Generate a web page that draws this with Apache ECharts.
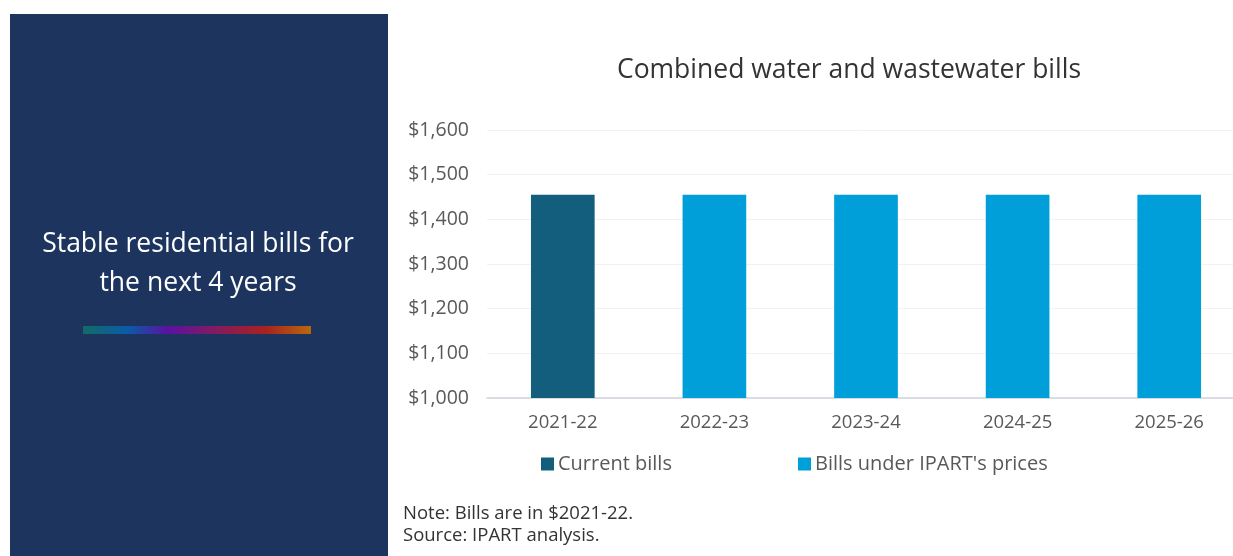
<!DOCTYPE html>
<html>
<head>
<meta charset="utf-8">
<style>
html,body{margin:0;padding:0;background:#fff;}
#chart{width:1233px;height:556px;}
</style>
<script src="https://cdn.jsdelivr.net/npm/echarts@6/dist/echarts.min.js"></script>
</head>
<body>
<div id="chart"></div>
<script>
const categories = ['2021-22', '2022-23', '2023-24', '2024-25', '2025-26'];
const currentBills = [1455, null, null, null, null];
const ipartBills = [null, 1455, 1455, 1455, 1455];
const yTicks = [1000, 1100, 1200, 1300, 1400, 1500, 1600];
const seriesNames = ['Current bills', "Bills under IPART's prices"];

const FONT = '"Open Sans", Lato, sans-serif';
const chart = echarts.init(document.getElementById('chart'), null, {renderer: 'canvas'});
chart.setOption({
  animation: false,
  textStyle: {fontFamily: FONT},
  title: {
    text: 'Combined water and wastewater bills',
    left: 844, top: 52, textAlign: 'center',
    textStyle: {fontFamily: FONT, fontSize: 26.5, fontWeight: 'normal', color: '#333'}
  },
  grid: {left: 487, width: 758, top: 130, height: 268, containLabel: false, outerBoundsMode: 'none'},
  legend: [
    {data: [seriesNames[0]], left: 536, top: 449, itemWidth: 13, itemHeight: 13, icon: 'rect',
     textStyle: {fontFamily: FONT, fontSize: 20, color: '#595959', padding: [0,0,0,-1]}},
    {data: [seriesNames[1]], left: 793, top: 449, itemWidth: 13, itemHeight: 13, icon: 'rect',
     textStyle: {fontFamily: FONT, fontSize: 20, color: '#595959', padding: [0,0,0,-1]}}
  ],
  xAxis: {
    type: 'category', data: categories,
    axisLine: {lineStyle: {color: '#d0d3dc', width: 1.5}},
    axisTick: {show: false},
    axisLabel: {fontFamily: FONT, fontSize: 18.5, color: '#595959', margin: 15}
  },
  yAxis: {
    type: 'value', min: yTicks[0], max: yTicks[yTicks.length-1], interval: 100,
    axisLine: {show: false}, axisTick: {show: false},
    splitLine: {lineStyle: {color: '#f2f2f2'}},
    axisLabel: {fontFamily: FONT, fontSize: 19.5, color: '#595959', margin: 18,
      formatter: v => '$' + v.toLocaleString('en-US')}
  },
  series: [
    {name: seriesNames[0], type: 'bar', stack: 'b', data: currentBills, barWidth: '42%',
     itemStyle: {color: '#135e7c'}},
    {name: seriesNames[1], type: 'bar', stack: 'b', data: ipartBills, barWidth: '42%',
     itemStyle: {color: '#009fd9'}}
  ],
  graphic: [
    {type: 'rect', left: 10, top: 14, shape: {width: 378, height: 542}, style: {fill: '#1d355e'}, z: -1},
    {type: 'text', x: 198, y: 244, style: {text: 'Stable residential bills for', fill: '#ffffff', font: '26.5px ' + FONT, textAlign: 'center', textVerticalAlign: 'middle'}},
    {type: 'text', x: 198, y: 283, style: {text: 'the next 4 years', fill: '#ffffff', font: '26.5px ' + FONT, textAlign: 'center', textVerticalAlign: 'middle'}},
    {type: 'rect', shape: {x: 83, y: 326, width: 228, height: 8},
     style: {fill: new echarts.graphic.LinearGradient(0, 0, 1, 0, [
       {offset: 0, color: '#126b66'}, {offset: 0.2, color: '#0b5aa8'}, {offset: 0.37, color: '#5a12a0'},
       {offset: 0.55, color: '#7e1a6a'}, {offset: 0.8, color: '#a8221f'}, {offset: 1, color: '#b8680e'}])}},
    {type: 'text', x: 403, y: 514, style: {text: 'Note: Bills are in $2021-22.', fill: '#333', font: '18.5px ' + FONT, textVerticalAlign: 'middle'}},
    {type: 'text', x: 403, y: 536, style: {text: 'Source: IPART analysis.', fill: '#333', font: '18.5px ' + FONT, textVerticalAlign: 'middle'}}
  ]
});
</script>
</body>
</html>
